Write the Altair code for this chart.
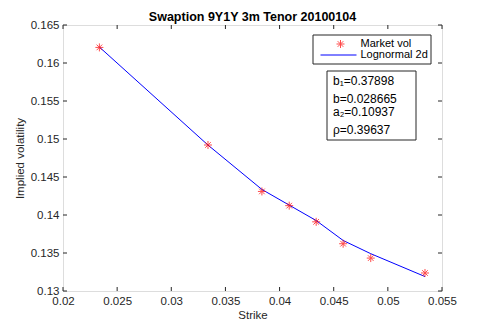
import altair as alt
import pandas as pd

# ---- data ----
strikes = [0.02336, 0.03339, 0.03837, 0.04089, 0.04338, 0.04587, 0.04842, 0.05343]
market_vol = [0.16205, 0.14921, 0.1431, 0.14123, 0.1391, 0.13622, 0.13433, 0.13237]
fit_vol = [0.1621, 0.1492, 0.14336, 0.1413, 0.13927, 0.13665, 0.13491, 0.1319]

x_ticks = [0.02, 0.025, 0.03, 0.035, 0.04, 0.045, 0.05, 0.055]
y_ticks = [0.13, 0.135, 0.14, 0.145, 0.15, 0.155, 0.16, 0.165]

title_text = "Swaption 9Y1Y 3m Tenor 20100104"
x_title = "Strike"
y_title = "Implied volatility"
legend_labels = ["Market vol", "Lognormal 2d"]
param_labels = ["b\u2081=0.37898", "b=0.028665", "a\u2082=0.10937", "\u03c1=0.39637"]

W, H = 379, 266
FONT = "Liberation Sans"
AX = "#262626"
STAR = "M-1,0L1,0M0,-1L0,1M-0.7,-0.7L0.7,0.7M-0.7,0.7L0.7,-0.7"

df = pd.DataFrame({"strike": strikes, "market": market_vol, "fit": fit_vol})
xs = alt.Scale(domain=[0.02, 0.055], nice=False, zero=False)
ys = alt.Scale(domain=[0.13, 0.165], nice=False, zero=False)

common = dict(format="~g", grid=False, ticks=False, domain=False, labelOverlap=False,
              labelFlush=False, labelFont=FONT, labelFontSize=11.5, labelColor=AX,
              titleFont=FONT, titleFontSize=11.5, titleFontWeight="normal", titleColor=AX)
xaxis = alt.Axis(values=x_ticks, tickCount=8, labelPadding=4, title=x_title, titlePadding=3, **common)
yaxis = alt.Axis(values=y_ticks, tickCount=8, labelPadding=4, title=y_title, titlePadding=5, **common)


def X(f):
    return alt.X(f, type="quantitative", scale=xs, axis=xaxis)


def Y(f):
    return alt.Y(f, type="quantitative", scale=ys, axis=yaxis)


base = alt.Chart(df)
line = base.mark_line(color="#0000FF", strokeWidth=1, clip=True).encode(x=X("strike"), y=Y("fit"))
pts = base.mark_point(shape=STAR, color="#FF0000", size=64, strokeWidth=1, filled=False).encode(
    x=X("strike"), y=Y("market"))

# inward ticks on all four sides
xt = pd.DataFrame({"v": x_ticks})
yt = pd.DataFrame({"v": y_ticks})
tick_style = dict(color=AX, strokeWidth=1)
xb = alt.Chart(xt).mark_rule(**tick_style).encode(x=X("v"), y=alt.value(H), y2=alt.value(H - 4))
xtop = alt.Chart(xt).mark_rule(**tick_style).encode(x=X("v"), y=alt.value(0), y2=alt.value(4))
yl = alt.Chart(yt).mark_rule(**tick_style).encode(y=Y("v"), x=alt.value(0), x2=alt.value(4))
yr = alt.Chart(yt).mark_rule(**tick_style).encode(y=Y("v"), x=alt.value(W), x2=alt.value(W - 4))

# legend box
one = pd.DataFrame({"a": [0]})
leg_box = alt.Chart(one).mark_rect(fill="white", stroke=AX, strokeWidth=1).encode(
    x=alt.value(250), x2=alt.value(368), y=alt.value(10), y2=alt.value(39))
leg_star = alt.Chart(one).mark_point(shape=STAR, color="#FF0000", size=64, strokeWidth=1,
                                     filled=False).encode(x=alt.value(277.5), y=alt.value(19))
leg_line = alt.Chart(one).mark_rule(color="#0000FF", strokeWidth=1).encode(
    x=alt.value(257.5), x2=alt.value(293.5), y=alt.value(30))
leg_txt = [
    alt.Chart(one).mark_text(align="left", baseline="middle", font=FONT, fontSize=11,
                             color="black").encode(x=alt.value(297.5), y=alt.value(yy),
                                                   text=alt.value(t))
    for t, yy in zip(legend_labels, [19, 30])
]

# parameter box
par_box = alt.Chart(one).mark_rect(fill="white", stroke=AX, strokeWidth=1).encode(
    x=alt.value(264), x2=alt.value(353), y=alt.value(46), y2=alt.value(115))
par_txt = [
    alt.Chart(one).mark_text(align="left", baseline="middle", font=FONT, fontSize=12,
                             color="black").encode(x=alt.value(270), y=alt.value(yy),
                                                   text=alt.value(t))
    for t, yy in zip(param_labels, [56, 73.5, 86.5, 104.5])
]

chart = alt.layer(line, pts, xb, xtop, yl, yr, leg_box, leg_star, leg_line, *leg_txt,
                  par_box, *par_txt).properties(
    width=W, height=H,
    title=alt.TitleParams(title_text, font=FONT, fontSize=12.5, fontWeight="bold",
                          color="black", anchor="middle", offset=4, dy=8),
    autosize=alt.AutoSizeParams(type="none"),
    padding={"left": 55, "top": 17, "right": 30, "bottom": 34},
).configure_view(stroke=AX, strokeWidth=1).configure(background="white")

chart.save("out.html", embed_options={"renderer": "svg", "actions": False})
